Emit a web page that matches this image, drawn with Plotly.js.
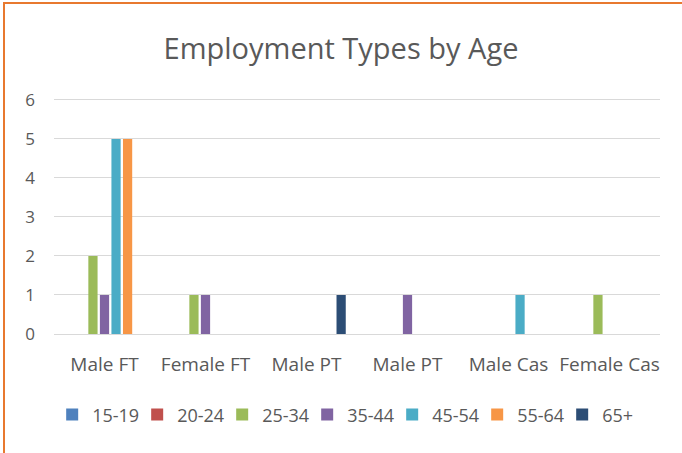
<!DOCTYPE html>
<html>
<head>
<meta charset="utf-8">
<script src="https://cdn.plot.ly/plotly-3.0.1.min.js"></script>
<style>
html,body{margin:0;padding:0;background:#fff;overflow:hidden;}
#chart{position:absolute;left:0;top:0;width:682px;height:453px;}
#frame{position:absolute;left:3px;top:2px;width:700px;height:480px;border-left:2px solid #E8792F;border-top:2px solid #E8792F;pointer-events:none;}
</style>
</head>
<body>
<div id="chart"></div>
<div id="frame"></div>
<script>
const categories = ["Male FT", "Female FT", "Male PT", "Male PT", "Male Cas", "Female Cas"];
const seriesNames = ["15-19", "20-24", "25-34", "35-44", "45-54", "55-64", "65+"];
const seriesColors = ["#4F81BD", "#C0504D", "#9BBB59", "#8064A2", "#4BACC6", "#F79646", "#2C4D75"];
const v15_19 = [0, 0, 0, 0, 0, 0];
const v20_24 = [0, 0, 0, 0, 0, 0];
const v25_34 = [2, 1, 0, 0, 0, 1];
const v35_44 = [1, 1, 0, 1, 0, 0];
const v45_54 = [5, 0, 0, 0, 1, 0];
const v55_64 = [5, 0, 0, 0, 0, 0];
const v65plus = [0, 0, 1, 0, 0, 0];
const yTicks = [0, 1, 2, 3, 4, 5, 6];

const seriesValues = [v15_19, v20_24, v25_34, v35_44, v45_54, v55_64, v65plus];
const xIdx = categories.map((c, i) => i);
const font = "'Open Sans', sans-serif";

const traces = seriesNames.map((name, s) => ({
  type: "bar",
  name: name,
  x: xIdx,
  y: seriesValues[s],
  marker: {color: seriesColors[s]},
  hoverinfo: "name+y"
}));

const layout = {
  width: 682, height: 453,
  margin: {l: 54, r: 22, t: 96, b: 119},
  paper_bgcolor: "#fff", plot_bgcolor: "#fff",
  font: {family: font, color: "#595959", size: 15},
  title: {text: "Employment Types by Age", font: {family: font, size: 29, color: "#595959"}, x: 0.5, xanchor: "center", y: 0.893, yanchor: "middle"},
  barmode: "group",
  bargap: 0.2,
  bargroupgap: 0.2,
  xaxis: {
    tickmode: "array", tickvals: xIdx, ticktext: categories,
    range: [-0.5, categories.length - 0.5],
    showgrid: false, zeroline: false, showline: false, ticks: "",
    tickfont: {family: font, size: 19, color: "#595959"},
    ticklabelstandoff: 17, automargin: false
  },
  yaxis: {
    range: [0, 6.1], tickmode: "array", tickvals: yTicks,
    showgrid: true, gridcolor: "#D9D9D9", gridwidth: 1,
    zeroline: true, zerolinecolor: "#D9D9D9", zerolinewidth: 1,
    showline: false, ticks: "",
    tickfont: {family: font, size: 17, color: "#595959"},
    ticklabelstandoff: 18, automargin: false
  },
  legend: {
    orientation: "h", x: -0.003, xanchor: "left", y: -0.34, yanchor: "middle",
    font: {family: font, size: 18, color: "#595959"},
    itemwidth: 30, entrywidth: 40, entrywidthmode: "pixels", traceorder: "normal"
  },
  showlegend: true
};

Plotly.newPlot("chart", traces, layout, {displayModeBar: false, staticPlot: true});
</script>
</body>
</html>
